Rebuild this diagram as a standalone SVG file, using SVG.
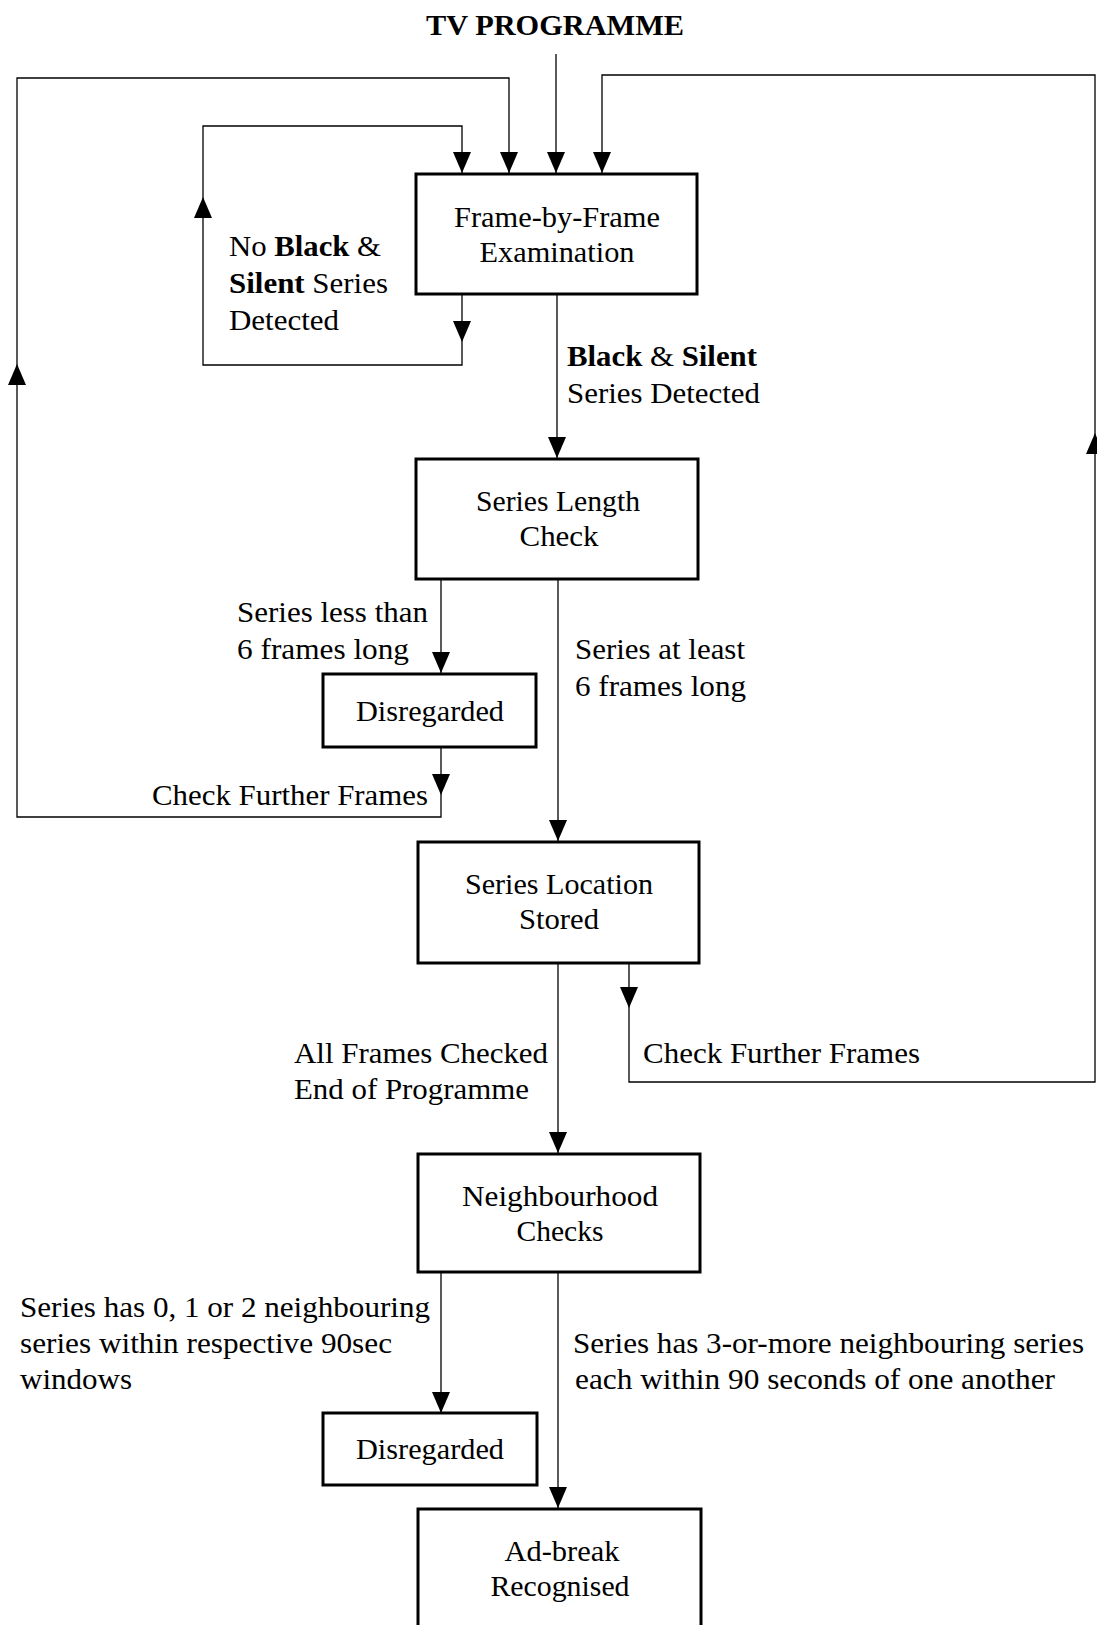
<svg xmlns="http://www.w3.org/2000/svg" width="1097" height="1625" viewBox="0 0 1097 1625">
<style>
text{font-family:"Liberation Serif","Times New Roman",serif;font-size:30px;fill:#000}
.c{text-anchor:middle}
.b{font-weight:bold}
.box{fill:#fff;stroke:#000;stroke-width:3}
.ln{fill:none;stroke:#000;stroke-width:1.3}
.ar{marker-end:url(#ah)}
</style>
<defs>
<marker id="ah" viewBox="0 0 21 18" refX="21" refY="9" markerWidth="21" markerHeight="18" markerUnits="userSpaceOnUse" orient="auto">
<path d="M0,0 L21,9 L0,18 Z" fill="#000"/>
</marker>
</defs>
<rect width="1097" height="1625" fill="#fff"/>
<text class="c b" x="555" y="35" textLength="258" lengthAdjust="spacingAndGlyphs">TV PROGRAMME</text>

<g id="connectors">
<path class="ln ar" d="M556,54 V173"/>
<path class="ln ar" d="M462,294 V342"/>
<path class="ln ar" d="M462,342 V365 H203 V197"/>
<path class="ln ar" d="M203,197 V126 H462 V173"/>
<path class="ln ar" d="M441,747 V795"/>
<path class="ln ar" d="M441,795 V817 H17 V364"/>
<path class="ln ar" d="M17,364 V78 H509 V173"/>
<path class="ln ar" d="M629,963 V1008"/>
<path class="ln ar" d="M629,1008 V1082 H1095 V433"/>
<path class="ln ar" d="M1095,433 V75 H602 V173"/>
<path class="ln ar" d="M557,294 V458"/>
<path class="ln ar" d="M441,580 V673"/>
<path class="ln ar" d="M558,580 V841"/>
<path class="ln ar" d="M558,963 V1153"/>
<path class="ln ar" d="M441,1273 V1413"/>
<path class="ln ar" d="M558,1273 V1508"/>
</g>

<g id="labels">
<text x="229" y="256" textLength="152" lengthAdjust="spacingAndGlyphs">No <tspan class="b">Black</tspan> &amp;</text>
<text x="229" y="293" textLength="159" lengthAdjust="spacingAndGlyphs"><tspan class="b">Silent</tspan> Series</text>
<text x="229" y="330" textLength="110" lengthAdjust="spacingAndGlyphs">Detected</text>
<text x="567" y="366" textLength="190" lengthAdjust="spacingAndGlyphs"><tspan class="b">Black</tspan> &amp; <tspan class="b">Silent</tspan></text>
<text x="567" y="403" textLength="193" lengthAdjust="spacingAndGlyphs">Series Detected</text>
<text x="237" y="622" textLength="191" lengthAdjust="spacingAndGlyphs">Series less than</text>
<text x="237" y="659" textLength="172" lengthAdjust="spacingAndGlyphs">6 frames long</text>
<text x="575" y="659" textLength="170" lengthAdjust="spacingAndGlyphs">Series at least</text>
<text x="575" y="696" textLength="171" lengthAdjust="spacingAndGlyphs">6 frames long</text>
<text x="152" y="805" textLength="276" lengthAdjust="spacingAndGlyphs">Check Further Frames</text>
<text x="294" y="1063" textLength="254" lengthAdjust="spacingAndGlyphs">All Frames Checked</text>
<text x="294" y="1099" textLength="235" lengthAdjust="spacingAndGlyphs">End of Programme</text>
<text x="643" y="1063" textLength="277" lengthAdjust="spacingAndGlyphs">Check Further Frames</text>
<text x="20" y="1317" textLength="410" lengthAdjust="spacingAndGlyphs">Series has 0, 1 or 2 neighbouring</text>
<text x="20" y="1353" textLength="372" lengthAdjust="spacingAndGlyphs">series within respective 90sec</text>
<text x="20" y="1389" textLength="112" lengthAdjust="spacingAndGlyphs">windows</text>
<text x="573" y="1353" textLength="511" lengthAdjust="spacingAndGlyphs">Series has 3-or-more neighbouring series</text>
<text x="575" y="1389" textLength="480" lengthAdjust="spacingAndGlyphs">each within 90 seconds of one another</text>
</g>

<g id="frame-exam">
<rect class="box" x="416" y="174" width="281" height="120"/>
<text class="c" x="557" y="227" textLength="206" lengthAdjust="spacingAndGlyphs">Frame-by-Frame</text>
<text class="c" x="557" y="262" textLength="155" lengthAdjust="spacingAndGlyphs">Examination</text>
</g>
<g id="length-check">
<rect class="box" x="416" y="459" width="282" height="120"/>
<text class="c" x="558" y="511" textLength="164" lengthAdjust="spacingAndGlyphs">Series Length</text>
<text class="c" x="559" y="546" textLength="79" lengthAdjust="spacingAndGlyphs">Check</text>
</g>
<g id="disregarded-1">
<rect class="box" x="323" y="674" width="213" height="73"/>
<text class="c" x="430" y="721" textLength="148" lengthAdjust="spacingAndGlyphs">Disregarded</text>
</g>
<g id="location-stored">
<rect class="box" x="418" y="842" width="281" height="121"/>
<text class="c" x="559" y="894" textLength="188" lengthAdjust="spacingAndGlyphs">Series Location</text>
<text class="c" x="559" y="929" textLength="80" lengthAdjust="spacingAndGlyphs">Stored</text>
</g>
<g id="neighbourhood">
<rect class="box" x="418" y="1154" width="282" height="118"/>
<text class="c" x="560" y="1206" textLength="196" lengthAdjust="spacingAndGlyphs">Neighbourhood</text>
<text class="c" x="560" y="1241" textLength="87" lengthAdjust="spacingAndGlyphs">Checks</text>
</g>
<g id="disregarded-2">
<rect class="box" x="323" y="1413" width="214" height="72"/>
<text class="c" x="430" y="1459" textLength="148" lengthAdjust="spacingAndGlyphs">Disregarded</text>
</g>
<g id="adbreak">
<rect class="box" x="418" y="1509" width="283" height="130"/>
<text class="c" x="562" y="1561" textLength="115" lengthAdjust="spacingAndGlyphs">Ad-break</text>
<text class="c" x="560" y="1596" textLength="139" lengthAdjust="spacingAndGlyphs">Recognised</text>
</g>
</svg>
